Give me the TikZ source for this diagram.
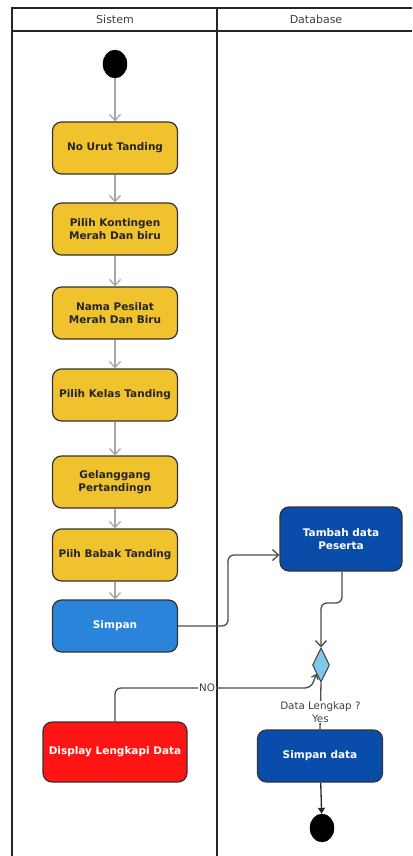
\documentclass[tikz,border=0pt]{standalone}
\usepackage{fontspec}
\setmainfont{DejaVu Sans}
\usetikzlibrary{positioning,arrows.meta,shapes.geometric}

\definecolor{actyellow}{HTML}{F0C22E}
\definecolor{actblue}{HTML}{2A84DA}
\definecolor{dbblue}{HTML}{0A4CAA}
\definecolor{actred}{HTML}{FF1414}
\definecolor{decblue}{HTML}{80C8EA}

\begin{document}
\begin{tikzpicture}[
    x=1pt, y=-1pt,
    every node/.style={font=\fontsize{10.3}{12.5}\selectfont},
    act/.style={rectangle, draw=black!80, line width=1.2pt, fill=actyellow, text=black!85, align=center, rounded corners=9pt, minimum width=125pt, minimum height=52pt, font=\fontsize{10.5}{13.5}\selectfont\bfseries},
    actdb/.style={act, fill=dbblue, text=white},
    dot/.style={ellipse, fill=black, draw=black, minimum width=24pt, minimum height=28pt, inner sep=0pt},
    flow/.style={-{Straight Barb[length=6pt, width=11pt]}, line width=1.3pt, gray!70},
    link/.style={-{Straight Barb[length=6pt, width=11pt]}, line width=1.3pt, black!70, rounded corners=6pt},
    lane/.style={line width=2pt, black!85},
    tag/.style={fill=white, inner sep=1pt, text=black!75, align=center},
]
\useasboundingbox (0,0) rectangle (412,856);

% Swimlanes
\draw[lane] (12,856) -- (12,8) -- (412,8);
\draw[lane] (12,31) -- (412,31);
\draw[lane] (217,8) -- (217,856);
\node[text=black!75, font=\fontsize{11}{13}\selectfont] (sistem) at (115,19) {Sistem};
\node[text=black!75, font=\fontsize{11}{13}\selectfont] (database) at (316,19) {Database};

% Sistem lane
\node[dot] (start) at (115,64) {};
\node[act] (urut) at (115,148) {No Urut Tanding};
\node[act] (kontingen) at (115,229) {Pilih Kontingen\\Merah Dan biru};
\node[act] (pesilat) at (115,313) {Nama Pesilat\\Merah Dan Biru};
\node[act] (kelas) at (115,395) {Pilih Kelas Tanding};
\node[act] (gelanggang) at (115,482) {Gelanggang\\Pertandingn};
\node[act] (babak) at (115,555) {Piih Babak Tanding};
\node[act, fill=actblue, text=white] (simpan) at (115,626) {Simpan};
\node[act, fill=actred, text=white, minimum width=144pt, minimum height=60pt] (lengkapi) at (115,752) {Display Lengkapi Data};

% Database lane
\node[actdb, minimum width=122pt, minimum height=64pt] (tambah) at (341,539) {Tambah data\\Peserta};
\node[diamond, draw=black!75, line width=1pt, fill=decblue, minimum width=17pt, minimum height=34pt, inner sep=0pt] (cek) at (321,665) {};
\node[actdb] (simpandata) at (320,756) {Simpan data};
\node[dot] (end) at (322,828) {};

\coordinate (bend1) at (228,555);
\coordinate (bend2) at (321,603);
\coordinate (bend3) at (311,688);

% Arrows
\draw[flow] (start) -- (urut);
\draw[flow] (urut) -- (kontingen);
\draw[flow] (kontingen) -- (pesilat);
\draw[flow] (pesilat) -- (kelas);
\draw[flow] (kelas) -- (gelanggang);
\draw[flow] (gelanggang) -- (babak);
\draw[flow] (babak) -- (simpan);
\draw[link] (simpan.east) -| (bend1) -- (bend1 -| tambah.west);
\draw[link] (tambah.south -| 342,0) |- (bend2) -- (cek.north);
\draw[link, -{Straight Barb[length=4pt, width=7pt]}] (lengkapi.north) |- node[tag, pos=0.735] {NO} (bend3) -- (cek.south west);
\draw[line width=1.3pt, black!70] (cek.south) -- node[tag, pos=0.63] {Data Lengkap ?\\Yes} (simpandata.north);
\draw[-{Triangle[length=6pt, width=7pt]}, line width=1.3pt, black!85] (simpandata) -- (end);

\end{tikzpicture}
\end{document}
